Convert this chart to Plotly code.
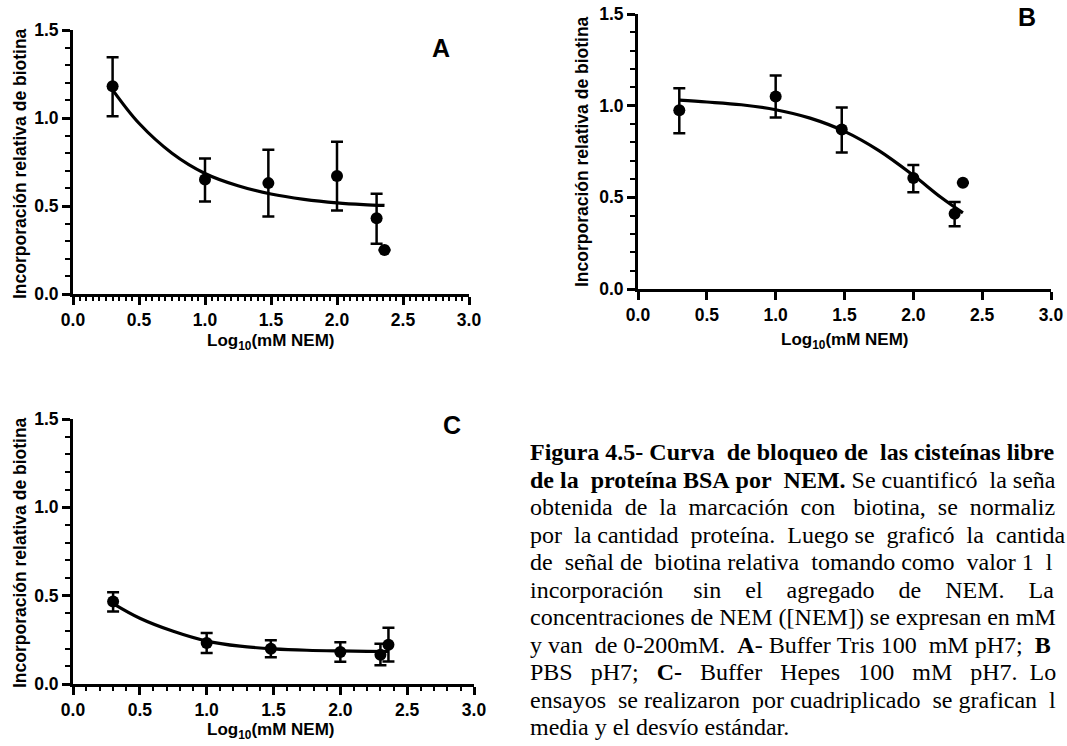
import plotly.graph_objects as go

# screenshot window size; the page body margin is removed so that
# pixel positions below are window coordinates
W, H = 1067, 746

# ---------------- data ----------------
x_pts = [0.30, 1.00, 1.48, 2.00, 2.30, 2.36]

a_y = [1.18, 0.65, 0.63, 0.67, 0.43, 0.25]
a_plus = [0.165, 0.12, 0.19, 0.195, 0.14, None]
a_minus = [0.17, 0.125, 0.19, 0.195, 0.145, None]

b_y = [0.975, 1.05, 0.87, 0.605, 0.41, 0.58]
b_plus = [0.12, 0.115, 0.12, 0.072, 0.065, None]
b_minus = [0.125, 0.115, 0.125, 0.077, 0.068, None]

c_y = [0.467, 0.232, 0.200, 0.181, 0.166, 0.222]
c_plus = [0.053, 0.056, 0.047, 0.055, 0.062, 0.096]
c_minus = [0.056, 0.057, 0.049, 0.055, 0.060, 0.094]

curve_x = [0.30, 0.50, 0.75, 1.00, 1.25, 1.50, 1.75, 2.00, 2.20, 2.36]
a_curve = [1.16, 0.97, 0.80, 0.685, 0.615, 0.568, 0.538, 0.518, 0.508, 0.503]
b_curve = [1.03, 1.02, 1.005, 0.978, 0.932, 0.86, 0.755, 0.62, 0.50, 0.415]
c_curve = [0.455, 0.372, 0.298, 0.243, 0.214, 0.199, 0.191, 0.187, 0.185, 0.184]

x_ticks = [0.0, 0.5, 1.0, 1.5, 2.0, 2.5, 3.0]
y_ticks = [0.0, 0.5, 1.0, 1.5]

y_title = "Incorporación relativa de biotina"
x_title = "Log<sub>10</sub>(mM NEM)"

# caption text as visible in the reference (the page cuts it at the right edge)
caption_lines = [
    "<b>Figura 4.5- Curva de bloqueo de las cisteínas libre</b>",
    "<b>de la proteína BSA por NEM.</b> Se cuantificó la seña",
    "obtenida de la marcación con biotina, se normaliz",
    "por la cantidad proteína. Luego se graficó la cantida",
    "de señal de biotina relativa tomando como valor 1 l",
    "incorporación sin el agregado de NEM. La",
    "concentraciones de NEM ([NEM]) se expresan en mM",
    "y van de 0-200mM. <b>A</b>- Buffer Tris 100 mM pH7; <b>B</b>",
    "PBS pH7; <b>C-</b> Buffer Hepes 100 mM pH7. Lo",
    "ensayos se realizaron por cuadriplicado se grafican l",
    "media y el desvío estándar.",
]
# spaces per word gap (justified look)
caption_gaps = [
    [1, 1, 2, 1, 1, 2, 1, 1],
    [1, 2, 1, 1, 2, 1, 1, 2, 1],
    [2, 2, 2, 2, 3, 2, 2],
    [2, 1, 2, 2, 1, 2, 2, 2],
    [2, 1, 2, 1, 2, 1, 2, 1, 2],
    [5, 4, 4, 4, 4, 4],
    None,
    [1, 2, 1, 2, 1, 1, 1, 2, 1, 2],
    [3, 3, 3, 3, 3, 3, 3, 2],
    [2, 1, 2, 1, 2, 1, 2],
    None,
]

# ---------------- layout helpers ----------------
def fx(p):
    return p / W

def fy(p):
    return 1 - p / H

SANS = "Liberation Sans, Arial, sans-serif"
SERIF = "Liberation Serif, Times New Roman, serif"
NB = "\u00a0"

panels = [
    dict(sfx="", xd=(73, 469), yd=(30, 294), y=a_y, p=a_plus, m=a_minus, cv=a_curve,
         xminor=0.05, letter="A", lp=(441, 48), yt=(20, 164), xt=(271, 342)),
    dict(sfx="2", xd=(638, 1051), yd=(14, 289), y=b_y, p=b_plus, m=b_minus, cv=b_curve,
         xminor=None, letter="B", lp=(1027, 17), yt=(582, 152), xt=(845, 341)),
    dict(sfx="3", xd=(73, 474), yd=(419, 684), y=c_y, p=c_plus, m=c_minus, cv=c_curve,
         xminor=0.1, letter="C", lp=(452, 425), yt=(20, 553), xt=(271, 731)),
]

fig = go.Figure()
annotations = []

for pn in panels:
    xa = "x" + pn["sfx"]
    ya = "y" + pn["sfx"]
    fig.add_trace(go.Scatter(
        x=curve_x, y=pn["cv"], mode="lines", xaxis=xa, yaxis=ya,
        line=dict(color="black", width=3.2, shape="spline", smoothing=1.0),
        showlegend=False, hoverinfo="skip"))
    fig.add_trace(go.Scatter(
        x=x_pts, y=pn["y"], mode="markers", xaxis=xa, yaxis=ya,
        marker=dict(color="black", size=12),
        error_y=dict(type="data", symmetric=False, array=pn["p"], arrayminus=pn["m"],
                     color="black", thickness=2.5, width=6),
        cliponaxis=False, showlegend=False))

    axis_common = dict(showline=True, linewidth=3, linecolor="black", mirror=False,
                       ticks="outside", ticklen=8, tickwidth=3, tickcolor="black",
                       showgrid=False, zeroline=False, tickformat=".1f", automargin=False,
                       tickfont=dict(family=SANS, size=17.5, color="black", weight="bold"))
    if pn["xminor"]:
        xminor = dict(ticks="outside", dtick=pn["xminor"], ticklen=4, tickwidth=2,
                      tickcolor="black", showgrid=False)
    else:
        xminor = dict(ticks="", showgrid=False)
    fig.layout["xaxis" + pn["sfx"]] = dict(
        domain=[fx(pn["xd"][0]), fx(pn["xd"][1])], range=[0, 3], anchor=ya,
        tickmode="array", tickvals=x_ticks, minor=xminor, **axis_common)
    fig.layout["yaxis" + pn["sfx"]] = dict(
        domain=[fy(pn["yd"][1]), fy(pn["yd"][0])], range=[0, 1.5], anchor=xa,
        tickmode="array", tickvals=y_ticks,
        minor=dict(ticks="outside", dtick=0.1, ticklen=5, tickwidth=2,
                   tickcolor="black", showgrid=False), **axis_common)

    annotations.append(dict(text="<b>" + pn["letter"] + "</b>", x=fx(pn["lp"][0]), y=fy(pn["lp"][1]),
                            xref="paper", yref="paper", showarrow=False,
                            xanchor="center", yanchor="middle",
                            font=dict(family=SANS, size=25, color="black")))
    annotations.append(dict(text="<b>" + y_title + "</b>", x=fx(pn["yt"][0]), y=fy(pn["yt"][1]),
                            xref="paper", yref="paper", showarrow=False, textangle=-90,
                            xanchor="center", yanchor="middle",
                            font=dict(family=SANS, size=17.5, color="black")))
    annotations.append(dict(text="<b>" + x_title + "</b>", x=fx(pn["xt"][0]), y=fy(pn["xt"][1]),
                            xref="paper", yref="paper", showarrow=False,
                            xanchor="center", yanchor="middle",
                            font=dict(family=SANS, size=17, color="black")))

# caption
cap_x = 528
base0 = 460
step = 27.5
for i, (txt, gaps) in enumerate(zip(caption_lines, caption_gaps)):
    if gaps:
        parts = txt.split(" ")
        out = parts[0]
        for g, w in zip(gaps, parts[1:]):
            out += NB * g + w
        txt = out
    annotations.append(dict(text=txt, x=fx(cap_x), y=fy(base0 + step * i - 8),
                            xref="paper", yref="paper", showarrow=False,
                            xanchor="left", yanchor="middle", align="left",
                            font=dict(family=SERIF, size=24, color="black")))

fig.update_layout(width=W, height=H, margin=dict(l=0, r=0, t=0, b=0),
                  paper_bgcolor="white", plot_bgcolor="white",
                  annotations=annotations, showlegend=False)

fig.write_html("out.html",
               config={"displayModeBar": False},
               post_script="document.body.style.margin='0px';document.body.style.overflow='hidden';")
